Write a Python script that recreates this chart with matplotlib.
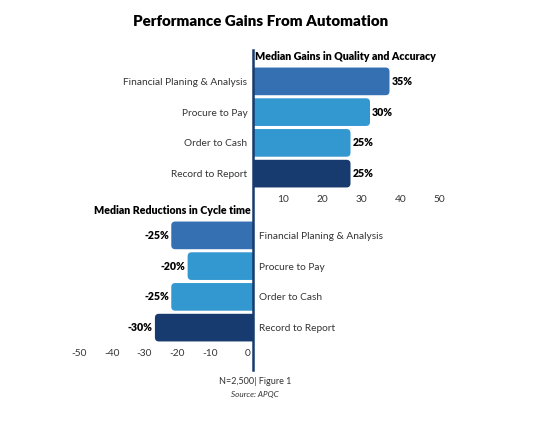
import matplotlib
matplotlib.use('Agg')
import matplotlib.pyplot as plt
from matplotlib.patches import FancyBboxPatch
from matplotlib.lines import Line2D
from matplotlib.transforms import ScaledTranslation

plt.rcParams['font.family'] = ['Lato', 'DejaVu Sans']

categories = ['Financial Planing & Analysis', 'Procure to Pay', 'Order to Cash', 'Record to Report']
quality_gains = [35, 30, 25, 25]
cycle_reductions = [-25, -20, -25, -30]
quality_ticks = [10, 20, 30, 40, 50]
cycle_ticks = [-50, -40, -30, -20, -10, 0]
bar_colors = ['#3570b3', '#3498d0', '#3498d0', '#173b6f']

W, H = 554, 421
fig = plt.figure(figsize=(W / 100, H / 100), dpi=100)


def px_axes(left, top, right, bottom):
    return fig.add_axes([left / W, 1 - bottom / H, (right - left) / W, (bottom - top) / H])


def round_bars(ax, bars, r_px, px_per_x, px_per_y):
    # swap plain rectangles for rounded ones (left end tucked under the axis line)
    for rect in bars:
        x, y = rect.get_x(), rect.get_y()
        w, h = rect.get_width(), rect.get_height()
        if w >= 0:
            x0, w0 = x - 3, w + 3
        else:
            x0, w0 = x + w, -w + 3
        rect.set_visible(False)
        box = FancyBboxPatch((x0, y), w0, h,
                             boxstyle=f'round,pad=0,rounding_size={r_px / px_per_x}',
                             mutation_aspect=px_per_x / px_per_y,
                             facecolor=rect.get_facecolor(), edgecolor='none')
        ax.add_patch(box)


LABEL_FS = 7.3
TXT = '#333333'

# top panel: gains
ax1 = px_axes(253, 66, 448, 189)
bars1 = ax1.barh(range(len(categories)), quality_gains, height=0.9, color=bar_colors)
ax1.set_xlim(0, 50)
ax1.set_ylim(3.5, -0.5)
round_bars(ax1, bars1, 4, 3.9, 30.75)
for i, v in enumerate(quality_gains):
    ax1.annotate(f'{v}%', xy=(v, i), xytext=(1.5, 0), textcoords='offset points',
                 ha='left', va='center', fontsize=7.6, fontweight='heavy')
ax1.set_yticks(range(len(categories)))
ax1.set_yticklabels(categories, fontsize=LABEL_FS, color=TXT)
ax1.set_xticks(quality_ticks)
ax1.set_xticklabels([str(t) for t in quality_ticks], fontsize=LABEL_FS, color=TXT, ha='right')
ax1.tick_params(length=0)
ax1.tick_params(axis='y', pad=4)
ax1.tick_params(axis='x', pad=4)
for lab in ax1.get_xticklabels():
    lab.set_transform(lab.get_transform() + ScaledTranslation(-2 / 72, 0, fig.dpi_scale_trans))
for s in ax1.spines.values():
    s.set_visible(False)
fig.text(255 / W, 1 - 57 / H, 'Median Gains in Quality and Accuracy', ha='left', va='center',
         fontsize=7.7, fontweight='heavy')

# bottom panel: cycle time
ax2 = px_axes(83, 220, 253, 343)
bars2 = ax2.barh(range(len(categories)), cycle_reductions, height=0.9, color=bar_colors)
ax2.set_xlim(-52, 0)
ax2.set_ylim(3.5, -0.5)
round_bars(ax2, bars2, 4, 3.27, 30.75)
for i, v in enumerate(cycle_reductions):
    ax2.annotate(f'{v}%', xy=(v, i), xytext=(-1.5, 0), textcoords='offset points',
                 ha='right', va='center', fontsize=7.6, fontweight='heavy')
ax2.yaxis.tick_right()
ax2.set_yticks(range(len(categories)))
ax2.set_yticklabels(categories, fontsize=LABEL_FS, color=TXT)
ax2.set_xticks(cycle_ticks)
ax2.set_xticklabels([str(t) for t in cycle_ticks], fontsize=LABEL_FS, color=TXT, ha='right')
ax2.tick_params(length=0)
ax2.tick_params(axis='y', pad=4)
ax2.tick_params(axis='x', pad=4)
for lab in ax2.get_xticklabels():
    lab.set_transform(lab.get_transform() + ScaledTranslation(-2 / 72, 0, fig.dpi_scale_trans))
for s in ax2.spines.values():
    s.set_visible(False)
fig.text(251 / W, 1 - 211 / H, 'Median Reductions in Cycle time', ha='right', va='center',
         fontsize=7.7, fontweight='heavy')

# shared zero line
fig.add_artist(Line2D([253 / W, 253 / W], [1 - 50 / H, 1 - 370 / H], color='#173b6f', lw=1.8))

fig.text(261 / W, 1 - 21 / H, 'Performance Gains From Automation', ha='center', va='center',
         fontsize=10.9, fontweight='heavy')
fig.text(255 / W, 1 - 381 / H, 'N=2,500| Figure 1', ha='center', va='center', fontsize=6.5,
         color=TXT)
fig.text(255 / W, 1 - 395 / H, 'Source: APQC', ha='center', va='center', fontsize=5.9,
         style='italic', color=TXT)

fig.savefig('out.png', dpi=100)
